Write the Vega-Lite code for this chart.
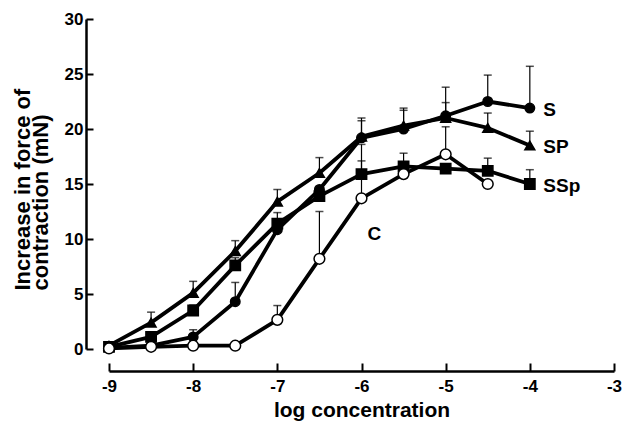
{
  "$schema": "https://vega.github.io/schema/vega-lite/v6.json",
  "width": 505,
  "height": 330,
  "autosize": {"type": "none"},
  "padding": {"left": 109, "top": 19, "right": 10, "bottom": 73},
  "background": "white",
  "config": {
    "view": {"stroke": null},
    "font": "Liberation Sans",
    "axis": {
      "grid": false,
      "domainColor": "black",
      "tickColor": "black",
      "labelColor": "black",
      "titleColor": "black",
      "labelFont": "Liberation Sans",
      "titleFont": "Liberation Sans",
      "labelFontWeight": "bold",
      "titleFontWeight": "bold",
      "labelOverlap": false,
      "labelFlush": false
    }
  },
  "datasets": {
    "pts": [
      {"series": "S", "x": -9, "y": 0.1, "err": null},
      {"series": "S", "x": -8.5, "y": 0.3, "err": null},
      {"series": "S", "x": -8, "y": 1.1, "err": 1.75},
      {"series": "S", "x": -7.5, "y": 4.3, "err": 6.05},
      {"series": "S", "x": -7, "y": 10.85, "err": null},
      {"series": "S", "x": -6.5, "y": 14.5, "err": null},
      {"series": "S", "x": -6, "y": 19.2, "err": 21.0},
      {"series": "S", "x": -5.5, "y": 20.0, "err": 21.9},
      {"series": "S", "x": -5, "y": 21.2, "err": 23.8},
      {"series": "S", "x": -4.5, "y": 22.5, "err": 24.9},
      {"series": "S", "x": -4, "y": 21.9, "err": 25.7},
      {"series": "SP", "x": -9, "y": 0.3, "err": null},
      {"series": "SP", "x": -8.5, "y": 2.4, "err": 3.35},
      {"series": "SP", "x": -8, "y": 5.1, "err": 6.15},
      {"series": "SP", "x": -7.5, "y": 8.9, "err": 9.85},
      {"series": "SP", "x": -7, "y": 13.4, "err": 14.5},
      {"series": "SP", "x": -6.5, "y": 16.0, "err": 17.4},
      {"series": "SP", "x": -6, "y": 19.3, "err": 20.75},
      {"series": "SP", "x": -5.5, "y": 20.3, "err": 21.7},
      {"series": "SP", "x": -5, "y": 21.0, "err": 22.4},
      {"series": "SP", "x": -4.5, "y": 20.1, "err": 21.45},
      {"series": "SP", "x": -4, "y": 18.5, "err": 19.8},
      {"series": "SSp", "x": -9, "y": 0.2, "err": null},
      {"series": "SSp", "x": -8.5, "y": 1.1, "err": null},
      {"series": "SSp", "x": -8, "y": 3.5, "err": 4.0},
      {"series": "SSp", "x": -7.5, "y": 7.6, "err": 8.3},
      {"series": "SSp", "x": -7, "y": 11.4, "err": 12.4},
      {"series": "SSp", "x": -6.5, "y": 13.9, "err": null},
      {"series": "SSp", "x": -6, "y": 15.9, "err": 18.6},
      {"series": "SSp", "x": -5.5, "y": 16.6, "err": 17.8},
      {"series": "SSp", "x": -5, "y": 16.4, "err": null},
      {"series": "SSp", "x": -4.5, "y": 16.2, "err": 17.35},
      {"series": "SSp", "x": -4, "y": 15.0, "err": 16.3},
      {"series": "C", "x": -9, "y": 0.05, "err": null},
      {"series": "C", "x": -8.5, "y": 0.2, "err": null},
      {"series": "C", "x": -8, "y": 0.3, "err": null},
      {"series": "C", "x": -7.5, "y": 0.3, "err": null},
      {"series": "C", "x": -7, "y": 2.65, "err": 3.95},
      {"series": "C", "x": -6.5, "y": 8.2, "err": 12.5},
      {"series": "C", "x": -6, "y": 13.7, "err": 17.1},
      {"series": "C", "x": -5.5, "y": 15.9, "err": null},
      {"series": "C", "x": -5, "y": 17.7, "err": 20.2},
      {"series": "C", "x": -4.5, "y": 15.0, "err": null}
    ],
    "labels": [
      {"t": "S", "x": -3.84, "y": 21.7},
      {"t": "SP", "x": -3.84, "y": 18.4},
      {"t": "SSp", "x": -3.84, "y": 14.85},
      {"t": "C", "x": -5.93, "y": 10.45}
    ]
  },
  "layer": [
    {
      "data": {"name": "pts"},
      "transform": [{"filter": "datum.err != null"}],
      "mark": {"type": "rule", "color": "black", "strokeWidth": 1.2},
      "encoding": {
        "x": {"field": "x", "type": "quantitative"},
        "y": {"field": "y", "type": "quantitative"},
        "y2": {"field": "err"}
      }
    },
    {
      "data": {"name": "pts"},
      "transform": [{"filter": "datum.err != null"}],
      "mark": {"type": "tick", "color": "black", "orient": "horizontal", "size": 8, "thickness": 1.5},
      "encoding": {
        "x": {"field": "x", "type": "quantitative"},
        "y": {"field": "err", "type": "quantitative"}
      }
    },
    {
      "data": {"name": "pts"},
      "mark": {"type": "line", "color": "black", "strokeWidth": 3.8, "strokeJoin": "round"},
      "encoding": {
        "x": {"field": "x", "type": "quantitative"},
        "y": {"field": "y", "type": "quantitative"},
        "detail": {"field": "series"}
      }
    },
    {
      "data": {"name": "pts"},
      "mark": {"type": "point", "filled": false, "stroke": "black", "strokeWidth": 1.5, "opacity": 1},
      "encoding": {
        "x": {
          "field": "x", "type": "quantitative",
          "scale": {"domain": [-9, -3], "nice": false, "zero": false},
          "axis": {
            "values": [-9, -8, -7, -6, -5, -4, -3],
            "labelExpr": "'' + datum.value",
            "title": "log concentration",
            "titleFontSize": 21,
            "labelFontSize": 17,
            "tickSize": -8,
            "tickWidth": 2,
            "domainWidth": 2.5,
            "offset": 22,
            "labelPadding": 15,
            "titlePadding": 5
          }
        },
        "y": {
          "field": "y", "type": "quantitative",
          "scale": {"domain": [0, 30], "nice": false},
          "axis": {
            "values": [0, 5, 10, 15, 20, 25, 30],
            "labelExpr": "'' + datum.value",
            "title": ["Increase in force of", "contraction (mN)"],
            "titleFontSize": 22,
            "titleLineHeight": 18,
            "titleAlign": "left",
            "titleY": 271,
            "labelFontSize": 17,
            "tickSize": -7,
            "tickWidth": 2,
            "domainWidth": 2.5,
            "offset": 23,
            "labelPadding": 10,
            "titlePadding": 12
          }
        },
        "shape": {
          "field": "series", "type": "nominal", "legend": null,
          "scale": {"domain": ["S", "SP", "SSp", "C"], "range": ["circle", "triangle-up", "square", "circle"]}
        },
        "fill": {
          "field": "series", "type": "nominal", "legend": null,
          "scale": {"domain": ["S", "SP", "SSp", "C"], "range": ["black", "black", "black", "white"]}
        },
        "size": {
          "field": "series", "type": "nominal", "legend": null,
          "scale": {"domain": ["S", "SP", "SSp", "C"], "range": [90, 115, 85, 90]}
        }
      }
    },
    {
      "data": {"name": "labels"},
      "mark": {"type": "text", "align": "left", "baseline": "middle", "fontSize": 19, "fontWeight": "bold", "font": "Liberation Sans", "color": "black"},
      "encoding": {
        "x": {"field": "x", "type": "quantitative"},
        "y": {"field": "y", "type": "quantitative"},
        "text": {"field": "t"}
      }
    }
  ]
}
